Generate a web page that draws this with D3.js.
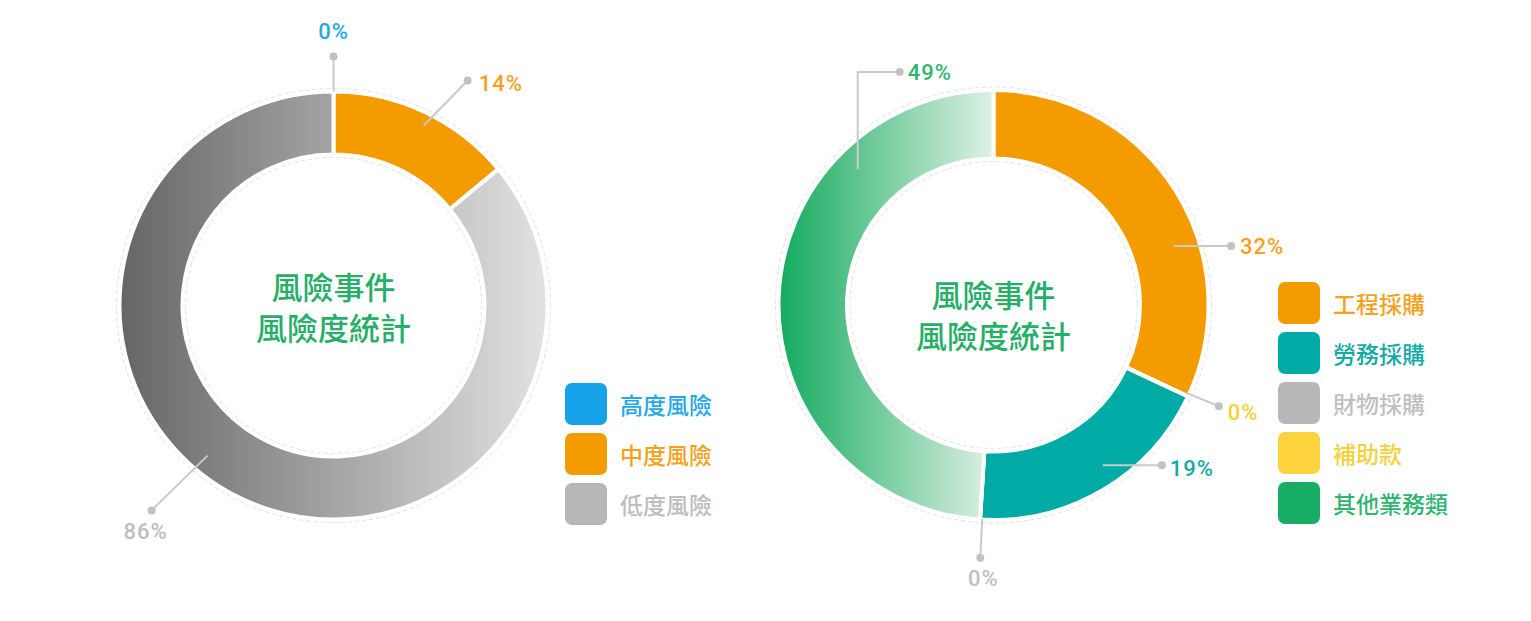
<!DOCTYPE html>
<html><head><meta charset="utf-8">
<script src="https://cdn.jsdelivr.net/npm/d3@7"></script>
<style>
html,body{margin:0;padding:0;background:#fff;}
svg{display:block;}
</style></head>
<body><svg id="chart" width="1531" height="621"></svg>
<script>
// ---- data ----
const centerTitle = ["風險事件", "風險度統計"];

const riskCategories = ["高度風險", "中度風險", "低度風險"];
const riskValues = [0, 14, 86];
const riskColors = ["#15a2e8", "#f49b00", "#b7b7b7"];
const riskLabelColors = ["#26a8e8", "#f5a11c", "#bdbdbd"];

const bizCategories = ["工程採購", "勞務採購", "財物採購", "補助款", "其他業務類"];
const bizValues = [32, 19, 0, 0, 49];
const bizColors = ["#f49b00", "#00aba6", "#b7b7b7", "#fcd33c", "#18ad64"];
const bizLabelColors = ["#f5a11c", "#14aba7", "#bfbfbf", "#f8cf3c", "#2fb572"];
const bizRingOrder = ["工程採購", "補助款", "勞務採購", "財物採購", "其他業務類"];

// ---- layout (not data) ----
const svg = d3.select("#chart");
const defs = svg.append("defs");
const deg = Math.PI / 180;

function polar(c, a, r) { return [c.cx + Math.sin(a) * r, c.cy - Math.cos(a) * r]; }

function drawDonut(cfg) {
  const g = svg.append("g");
  const c = cfg;
  // gradient (coordinates local to the translated ring group)
  defs.append("linearGradient").attr("id", c.id + "grad").attr("gradientUnits", "userSpaceOnUse")
    .attr("x1", -c.R).attr("x2", c.gradEndX - c.cx).attr("y1", 0).attr("y2", 0)
    .selectAll("stop").data(c.gradStops).join("stop")
    .attr("offset", (d, i) => i === 0 ? "0" : "1").attr("stop-color", d => d);

  const rows = c.categories.map((k, i) => ({ key: k, value: c.values[i], color: c.colors[i], label: c.labelColors[i] }));
  const pie = d3.pie().value(d => d.value)
    .sort((a, b) => c.order.indexOf(a.key) - c.order.indexOf(b.key));
  const arcs = pie(rows);
  const arc = d3.arc().innerRadius(c.r - 2).outerRadius(c.R + 2);

  // faint dashed guide circles
  [c.R + 5, c.r - 5].forEach(rr => {
    g.append("circle").attr("cx", c.cx).attr("cy", c.cy).attr("r", rr)
      .attr("fill", "none").attr("stroke", "#e2e2e2").attr("stroke-width", 1).attr("stroke-dasharray", "4 3");
  });

  g.append("g").attr("transform", `translate(${c.cx},${c.cy})`)
    .selectAll("path").data(arcs).join("path")
    .attr("d", arc)
    .attr("fill", d => d.data.key === c.gradKey ? `url(#${c.id}grad)` : d.data.color)
    .attr("stroke", "#fff").attr("stroke-width", 4).attr("stroke-linejoin", "miter");

  // labels
  arcs.forEach(d => {
    const L = c.labels[d.data.key];
    const mid = (d.startAngle + d.endAngle) / 2;
    const s = polar(c, mid + L.a0 * deg, L.r0);
    let pts = [s];
    if (L.type === "radial") pts.push(polar(c, mid + L.a1 * deg, L.r1));
    else if (L.type === "hor") pts.push([s[0] + L.dx, s[1]]);
    else if (L.type === "elbow") { pts.push([s[0], c.cy - L.up]); pts.push([s[0] + L.dx, c.cy - L.up]); }
    const e = pts[pts.length - 1];
    g.append("path").attr("d", d3.line()(pts)).attr("fill", "none")
      .attr("stroke", "#cacaca").attr("stroke-width", 2);
    g.append("circle").attr("cx", e[0]).attr("cy", e[1]).attr("r", 4).attr("fill", "#c2c2c2");
    g.append("text").attr("x", e[0] + L.tx).attr("y", e[1] + L.ty)
      .attr("text-anchor", L.anchor).attr("dominant-baseline", "central")
      .attr("font-family", "Roboto, 'DejaVu Sans', sans-serif").attr("font-weight", 500)
      .attr("font-size", 22).attr("letter-spacing", 1)
      .attr("fill", d.data.label).text(d.data.value + "%");
  });

  // center title
  centerTitle.forEach((t, i) => {
    g.append("text").attr("x", c.cx).attr("y", c.cy + c.titleY[i])
      .attr("text-anchor", "middle").attr("dominant-baseline", "central")
      .attr("font-family", "'Noto Sans CJK TC', 'Noto Sans CJK SC', sans-serif").attr("font-weight", 500)
      .attr("font-size", 31).attr("fill", "#27af69").text(t);
  });

  // legend
  const lg = g.append("g").selectAll("g").data(rows).join("g")
    .attr("transform", (d, i) => `translate(${c.legendX},${c.legendY + i * 50})`);
  lg.append("rect").attr("width", 42).attr("height", 42).attr("rx", 7).attr("fill", d => d.color);
  lg.append("text").attr("x", 55).attr("y", 21).attr("dominant-baseline", "central")
    .attr("font-family", "'Noto Sans CJK TC', 'Noto Sans CJK SC', sans-serif").attr("font-weight", 500)
    .attr("font-size", 23).attr("fill", d => d.label).text(d => d.key);
}

drawDonut({
  id: "risk", cx: 333.5, cy: 305.5, R: 212, r: 153,
  categories: riskCategories, values: riskValues, colors: riskColors, labelColors: riskLabelColors,
  order: riskCategories,
  gradKey: "低度風險", gradStops: ["#666666", "#e2e2e2"], gradEndX: 333.5 + 212,
  titleY: [-20, 21],
  legendX: 565, legendY: 383,
  labels: {
    "高度風險": { type: "radial", a0: 0, r0: 214, a1: 0, r1: 249, tx: 0, ty: -25, anchor: "middle" },
    "中度風險": { type: "radial", a0: 1.4, r0: 201, a1: 5.6, r1: 262, tx: 11, ty: 3, anchor: "start" },
    "低度風險": { type: "radial", a0: 14.8, r0: 196, a1: 16.4, r1: 274, tx: -6, ty: 21, anchor: "middle" }
  }
});

drawDonut({
  id: "biz", cx: 993.5, cy: 305, R: 213, r: 148.5,
  categories: bizCategories, values: bizValues, colors: bizColors, labelColors: bizLabelColors,
  order: bizRingOrder,
  gradKey: "其他業務類", gradStops: ["#15ab60", "#e0f1e4"], gradEndX: 993.5,
  titleY: [-12, 29],
  legendX: 1278, legendY: 282,
  labels: {
    "工程採購": { type: "hor", a0: 14.3, r0: 190, dx: 57, tx: 9, ty: 1, anchor: "start" },
    "補助款": { type: "radial", a0: -0.7, r0: 212, a1: -1, r1: 247, tx: 9, ty: 6, anchor: "start" },
    "勞務採購": { type: "hor", a0: -3.7, r0: 194, dx: 59, tx: 8, ty: 3, anchor: "start" },
    "財物採購": { type: "radial", a0: -0.6, r0: 214, a1: -0.6, r1: 253, tx: 3, ty: 21, anchor: "middle" },
    "其他業務類": { type: "elbow", a0: 43.2, r0: 192, up: 233, dx: 42, tx: 8, ty: 0, anchor: "start" }
  }
});
</script>
</body></html>
